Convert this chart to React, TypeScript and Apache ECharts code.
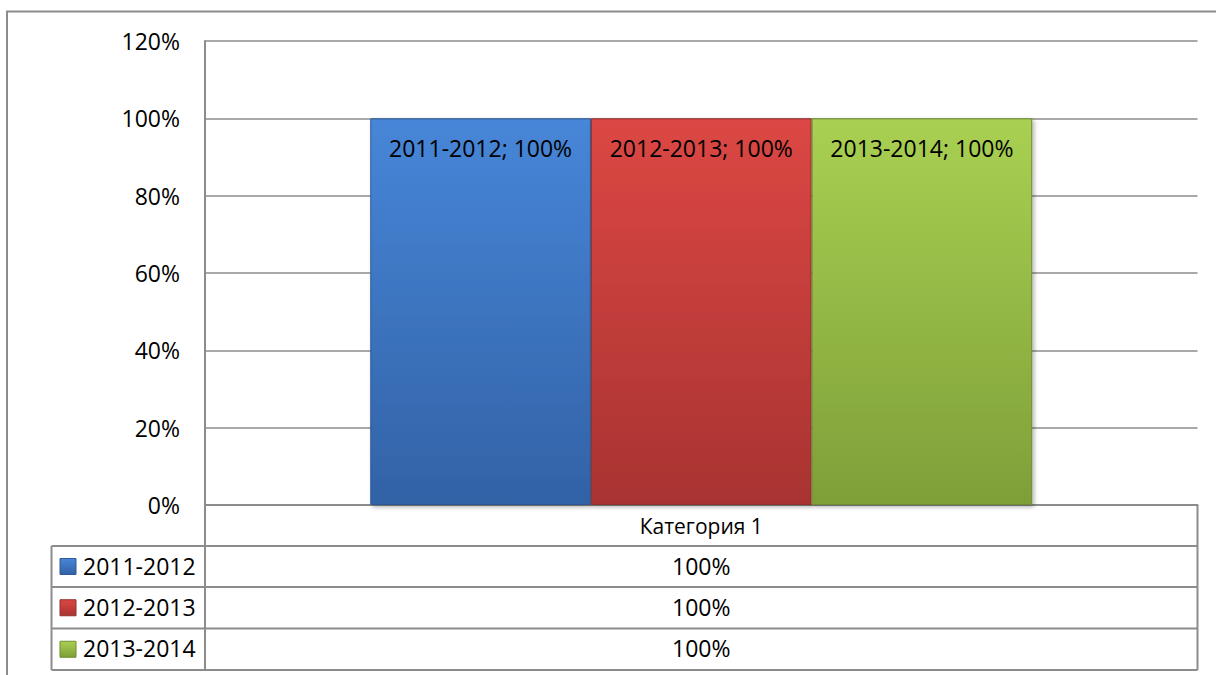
import React, { useEffect, useRef } from "react";
import * as echarts from "echarts";

// ---- data ----
const categories = ["Категория 1"];
const seriesNames = ["2011-2012", "2012-2013", "2013-2014"];
const values2011 = [1.0];
const values2012 = [1.0];
const values2013 = [1.0];
const seriesValues = [values2011, values2012, values2013];
const yMin = 0;
const yMax = 1.2;
const yInterval = 0.2;

// ---- styles ----
const FONT = '"Open Sans", "Noto Sans", sans-serif';
const BIG = 23;
const gradTop = ["#4786d8", "#dc4744", "#a9d052"];
const gradBot = ["#3262a6", "#a83331", "#7e9f38"];
const borders = ["#2e5a96", "#92302e", "#6f8c31"];

const fmtPct = (v: number) => Math.round(v * 100) + "%";

const GRID_L = 205;
const GRID_R = 1197.5;
const GRID_T = 41;
const GRID_B = 505;
const TABLE_L = 51.5;
const ROW_LINES = [546, 587, 628.5, 670];
const LINE_COLOR = "#8c8c8c";

function vgrad(i: number) {
  return new echarts.graphic.LinearGradient(0, 0, 0, 1, [
    { offset: 0, color: gradTop[i] },
    { offset: 1, color: gradBot[i] },
  ]);
}

export default function App() {
  const ref = useRef<HTMLDivElement>(null);
  useEffect(() => {
    if (!ref.current) return;
    const chart = echarts.init(ref.current, null, { renderer: "svg" });

    const graphics: any[] = [];
    // outer frame
    graphics.push({
      type: "rect",
      shape: { x: 7, y: 11.5, width: 1400, height: 900 },
      style: { fill: "none", stroke: LINE_COLOR, lineWidth: 2 },
      z: -10,
    });
    // table lines
    ROW_LINES.forEach((y) => {
      graphics.push({
        type: "line",
        shape: { x1: TABLE_L, y1: y, x2: GRID_R, y2: y },
        style: { stroke: LINE_COLOR, lineWidth: 2 },
      });
    });
    graphics.push({
      type: "line",
      shape: { x1: TABLE_L, y1: ROW_LINES[0], x2: TABLE_L, y2: ROW_LINES[3] },
      style: { stroke: LINE_COLOR, lineWidth: 2 },
    });
    graphics.push({
      type: "line",
      shape: { x1: GRID_L, y1: GRID_B, x2: GRID_L, y2: ROW_LINES[3] },
      style: { stroke: LINE_COLOR, lineWidth: 2 },
    });
    graphics.push({
      type: "line",
      shape: { x1: GRID_R, y1: GRID_B, x2: GRID_R, y2: ROW_LINES[3] },
      style: { stroke: LINE_COLOR, lineWidth: 2 },
    });
    seriesNames.forEach((name, i) => {
      const cy = (ROW_LINES[i] + ROW_LINES[i + 1]) / 2;
      graphics.push({
        type: "rect",
        shape: { x: 60, y: cy - 8, width: 16, height: 16 },
        style: { fill: vgrad(i), stroke: borders[i], lineWidth: 1 },
      });
      graphics.push({
        type: "text",
        x: 83,
        y: cy - 1,
        style: {
          text: name,
          font: `${BIG}px ${FONT}`,
          fill: "#000",
          textAlign: "left",
          textVerticalAlign: "middle",
        },
      });
      graphics.push({
        type: "text",
        x: (GRID_L + GRID_R) / 2,
        y: cy - 1,
        style: {
          text: fmtPct(seriesValues[i][0]),
          font: `${BIG}px ${FONT}`,
          fill: "#000",
          textAlign: "center",
          textVerticalAlign: "middle",
        },
      });
    });

    chart.setOption({
      animation: false,
      backgroundColor: "#fff",
      grid: {
        left: GRID_L,
        top: GRID_T,
        width: GRID_R - GRID_L,
        height: GRID_B - GRID_T,
        containLabel: false,
      },
      xAxis: {
        type: "category",
        data: categories,
        axisLine: { show: true, lineStyle: { color: LINE_COLOR, width: 2 } },
        axisTick: { show: false },
        axisLabel: {
          margin: 10,
          fontFamily: FONT,
          fontSize: 21,
          color: "#000",
        },
      },
      yAxis: {
        type: "value",
        min: yMin,
        max: yMax,
        interval: yInterval,
        axisLine: { show: true, lineStyle: { color: LINE_COLOR, width: 2 } },
        axisTick: { show: false },
        splitLine: { show: true, lineStyle: { color: LINE_COLOR, width: 1.5 } },
        axisLabel: {
          margin: 25,
          fontFamily: FONT,
          fontSize: BIG,
          color: "#000",
          formatter: (v: number) => fmtPct(v),
        },
      },
      series: seriesNames.map((name, i) => ({
        type: "bar",
        name,
        data: seriesValues[i],
        barGap: "0%",
        barCategoryGap: "33.3%",
        itemStyle: {
          color: vgrad(i),
          borderColor: borders[i],
          borderWidth: 1,
          shadowColor: "rgba(0,0,0,0.3)",
          shadowBlur: 4,
          shadowOffsetX: 2,
          shadowOffsetY: 2,
        },
        label: {
          show: true,
          position: "insideTop",
          distance: 18,
          fontFamily: FONT,
          fontSize: BIG,
          color: "#000",
          formatter: (p: any) => `${p.seriesName}; ${fmtPct(p.value)}`,
        },
      })),
      graphic: graphics,
    });
    return () => chart.dispose();
  }, []);
  return (
    <div
      ref={ref}
      style={{ position: "fixed", left: 0, top: 0, width: 1216, height: 675 }}
    />
  );
}
